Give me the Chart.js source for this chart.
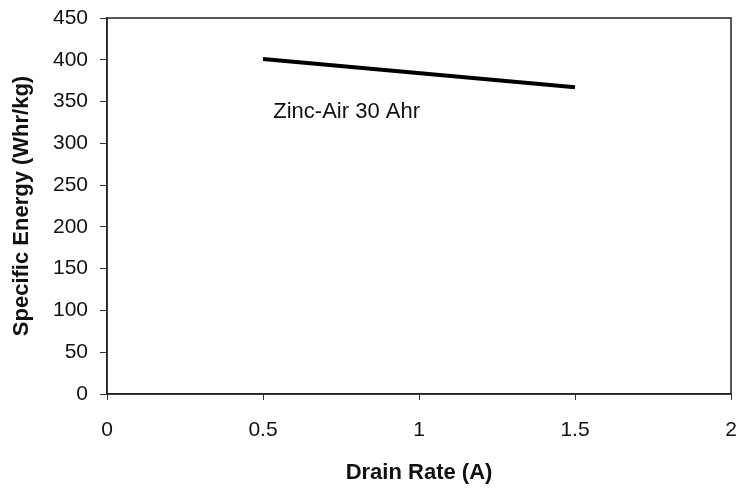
<!DOCTYPE html>
<html>
<head>
<meta charset="utf-8">
<script src="https://cdn.jsdelivr.net/npm/chart.js@4"></script>
<style>
  html, body { margin: 0; padding: 0; background: #fff; }
  #wrap { width: 744px; height: 488px; }
</style>
</head>
<body>
<div id="wrap"><canvas id="chart"></canvas></div>
<script>
// data
const drainRate = [0.5, 1.5];
const specificEnergy = [401, 367];
const xTicks = [0, 0.5, 1, 1.5, 2];
const yTicks = [0, 50, 100, 150, 200, 250, 300, 350, 400, 450];
const seriesLabel = "Zinc-Air 30 Ahr";
const labelAt = [0.533, 337];

const FONT = "'Liberation Sans', Arial, sans-serif";

// box round the plot + the text label next to the line
const frame = {
  id: "frame",
  afterDraw(chart) {
    const { ctx, chartArea: a, scales } = chart;
    ctx.save();
    ctx.strokeStyle = "#222";
    ctx.lineWidth = 1.5;
    ctx.strokeRect(a.left, a.top, a.right - a.left, a.bottom - a.top);
    ctx.fillStyle = "#111";
    ctx.font = "22px " + FONT;
    ctx.textAlign = "left";
    ctx.textBaseline = "middle";
    ctx.fillText(seriesLabel, scales.x.getPixelForValue(labelAt[0]), scales.y.getPixelForValue(labelAt[1]));
    ctx.restore();
  },
};

new Chart(document.getElementById("chart"), {
  type: "scatter",
  data: {
    datasets: [
      {
        label: seriesLabel,
        data: drainRate.map((x, i) => ({ x: x, y: specificEnergy[i] })),
        showLine: true,
        borderColor: "#000",
        borderWidth: 4,
        pointRadius: 0,
        fill: false,
      },
    ],
  },
  options: {
    responsive: true,
    maintainAspectRatio: false,
    animation: false,
    layout: { padding: { left: 0, top: 18, right: 13, bottom: 0 } },
    plugins: {
      legend: { display: false },
      tooltip: { enabled: false },
    },
    scales: {
      x: {
        type: "linear",
        min: 0,
        max: 2,
        afterBuildTicks: (s) => { s.ticks = xTicks.map((v) => ({ value: v })); },
        afterFit: (s) => { s.height = 94; s.paddingLeft = 0; s.paddingRight = 0; },
        grid: { drawOnChartArea: false, drawTicks: true, tickLength: 6, color: "#333" },
        border: { color: "#222", width: 1.5 },
        ticks: {
          color: "#111",
          font: { size: 21, family: FONT },
          padding: 18,
          maxRotation: 0,
          callback: (v) => String(v),
        },
        title: {
          display: true,
          text: "Drain Rate (A)",
          color: "#111",
          font: { size: 22, weight: "bold", family: FONT },
          padding: { top: 0, bottom: 2 },
        },
      },
      y: {
        type: "linear",
        min: 0,
        max: 450,
        afterBuildTicks: (s) => { s.ticks = yTicks.map((v) => ({ value: v })); },
        afterFit: (s) => { s.width = 107; s.paddingTop = 0; s.paddingBottom = 0; },
        grid: { drawOnChartArea: false, drawTicks: true, tickLength: 7, color: "#333" },
        border: { color: "#222", width: 1.5 },
        ticks: {
          color: "#111",
          font: { size: 21, family: FONT },
          padding: 12,
          callback: (v) => String(v),
        },
        title: {
          display: true,
          text: "Specific Energy (Whr/kg)",
          color: "#111",
          font: { size: 22, weight: "bold", family: FONT },
          padding: { top: 9, bottom: 0 },
        },
      },
    },
  },
  plugins: [frame],
});
</script>
</body>
</html>
